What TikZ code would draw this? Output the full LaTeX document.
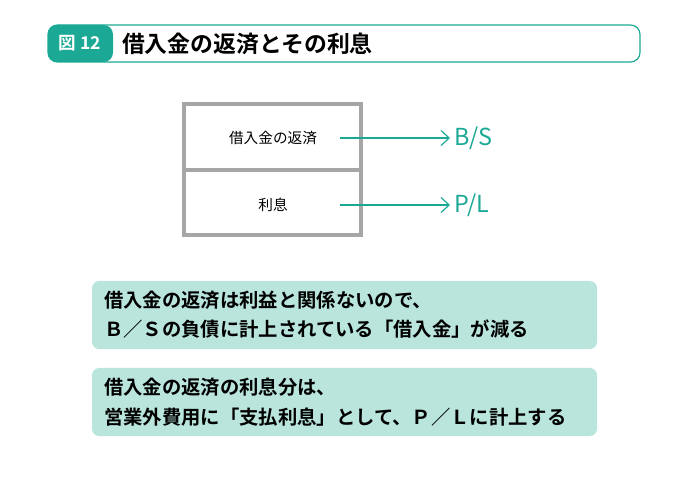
\documentclass[tikz,border=0pt]{standalone}
\usepackage{fontspec}
\setmainfont{Noto Sans CJK JP}
\newfontfamily\jpbold{Noto Sans CJK JP Bold}
\usetikzlibrary{arrows.meta}
\definecolor{teal1}{HTML}{1BA995}
\definecolor{mint}{HTML}{B9E5DD}
\tikzset{
  note/.style={fill=mint, rounded corners=6pt},
  notetext/.style={anchor=west, align=left, font=\jpbold\fontsize{16.5}{25}\selectfont},
  cell/.style={font=\fontsize{12.5}{13}\selectfont},
  arr/.style={teal1, line width=1pt, -{Straight Barb[length=7pt,width=13pt]}},
  side/.style={teal1, font=\fontsize{20}{22}\selectfont}
}
\begin{document}
\begin{tikzpicture}[x=0.03cm, y=-0.03cm]
    \useasboundingbox (0,0) rectangle (689,480);
    % header
    \draw[teal1, line width=1pt, rounded corners=8pt] (48,25) rectangle (640,62);
    \fill[teal1, rounded corners=8pt] (48,25) -- (113,25) -- (113,62) -- (48,62) -- cycle;
    \node[text=white, font=\jpbold\fontsize{15}{17}\selectfont] (fig) at (80,43.5) {図 12};
    \node[anchor=west, font=\jpbold\fontsize{19.5}{21}\selectfont] (title) at (118,43.5) {借入金の返済とその利息};
    % table
    \draw[gray!70, line width=3pt] (184,104) rectangle (361,235);
    \draw[gray!70, line width=3pt] (184,170) -- (361,170);
    \node[cell] (repay) at (273,138) {借入金の返済};
    \node[cell] (interest) at (273,205) {利息};
    \coordinate (a1) at (340,138);
    \coordinate (a2) at (340,205);
    \node[side, anchor=west] (bs) at (450,138) {B/S};
    \node[side, anchor=west] (pl) at (450,205) {P/L};
    \draw[arr] (a1) -- (bs.west);
    \draw[arr] (a2) -- (pl.west);
    % notes
    \fill[note] (92,281) rectangle (597,349);
    \node[notetext] (n1) at (100,315) {借入金の返済は利益と関係ないので、\\Ｂ／Ｓの負債に計上されている「借入金」が減る};
    \fill[note] (92,368) rectangle (597,436);
    \node[notetext] (n2) at (100,402) {借入金の返済の利息分は、\\営業外費用に「支払利息」として、Ｐ／Ｌに計上する};
\end{tikzpicture}
\end{document}
